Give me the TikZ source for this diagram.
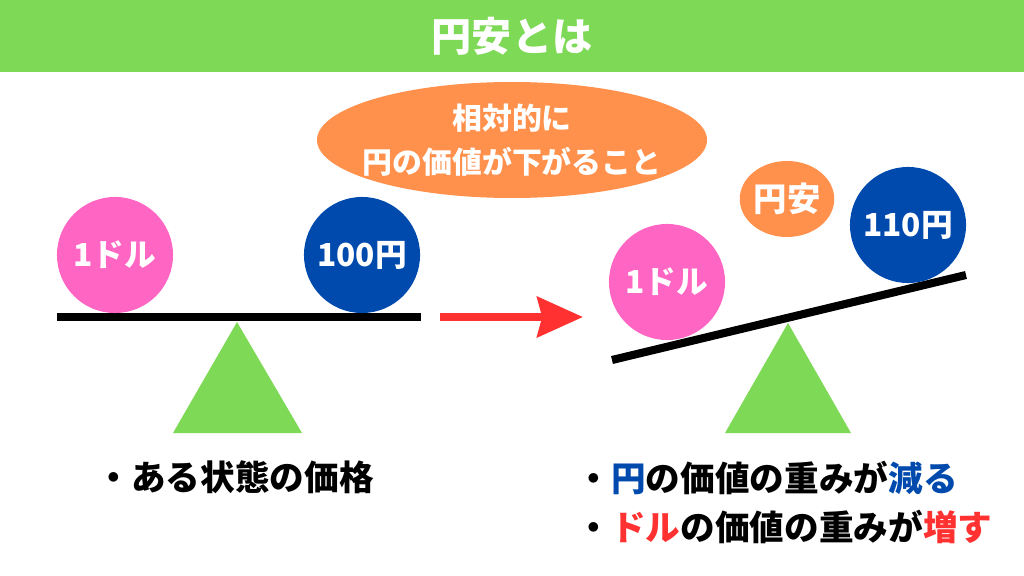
\documentclass[tikz,border=0pt]{standalone}
\usepackage{fontspec}
\setmainfont{Noto Sans CJK JP}
\usetikzlibrary{arrows.meta,shapes.geometric}

\definecolor{barGreen}{HTML}{7ED957}
\definecolor{yenOrange}{HTML}{FF914D}
\definecolor{dolPink}{HTML}{FF66C4}
\definecolor{yenBlue}{HTML}{004AAD}
\definecolor{arrRed}{HTML}{FF3131}

\tikzset{
    coin/.style={circle, minimum size=1.16cm, inner sep=0pt, text=white, font=\fontsize{9}{11}\selectfont\bfseries},
    beam/.style={line width=2.3pt},
    fulcrum/.style={fill=barGreen},
    bullet/.style={anchor=west, inner sep=0pt, font=\fontsize{9.85}{12}\selectfont\bfseries}
}

\begin{document}
\begin{tikzpicture}[x=0.01cm, y=-0.01cm]
    \useasboundingbox (0,0) rectangle (1024,576);
    % Title bar
    \fill[barGreen] (0,0) rectangle (1024,72);
    \node[text=white, font=\fontsize{11.4}{13}\selectfont\bfseries] (title) at (512,36) {円安とは};

    % Definition bubble
    \fill[yenOrange] (512,140) ellipse [x radius=195, y radius=58];
    \node[text=white, align=center, inner sep=0pt,
          font=\fontsize{8.5}{12.5}\selectfont\bfseries] (defn) at (512,140) {相対的に\\円の価値が下がること};

    % Left balance
    \draw[beam] (57,317) -- (421,317);
    \fill[fulcrum] (237,322) -- (302,433) -- (173,433) -- cycle;
    \node[coin, fill=dolPink] (dolA) at (115,255) {1ドル};
    \node[coin, fill=yenBlue] (yenA) at (362,255) {100円};

    % Arrow
    \coordinate (arrS) at (440,317);
    \coordinate (arrE) at (583,317);
    \draw[arrRed, line width=2.3pt, -{Stealth[length=13pt, width=11.4pt, inset=1.4pt]}] (arrS) -- (arrE);

    % Right balance
    \draw[beam] (612,360) -- (966,275);
    \fill[fulcrum] (788,323) -- (851,433) -- (725,433) -- cycle;
    \node[coin, fill=dolPink] (dolB) at (667,282) {1ドル};
    \node[coin, fill=yenBlue] (yenB) at (908,225) {110円};
    \node[ellipse, fill=yenOrange, minimum width=0.94cm, minimum height=0.76cm, inner sep=0pt,
          text=white, font=\fontsize{9.5}{11}\selectfont\bfseries] (yasu) at (787,199) {円安};

    % Notes
    \node[bullet] (noteA) at (96,477) {・ある状態の価格};
    \node[bullet] (noteB) at (576,478) {・\textcolor{yenBlue}{円}の価値の重みが\textcolor{yenBlue}{減る}};
    \node[bullet] (noteC) at (576,527) {・\textcolor{arrRed}{ドル}の価値の重みが\textcolor{arrRed}{増す}};
\end{tikzpicture}
\end{document}
